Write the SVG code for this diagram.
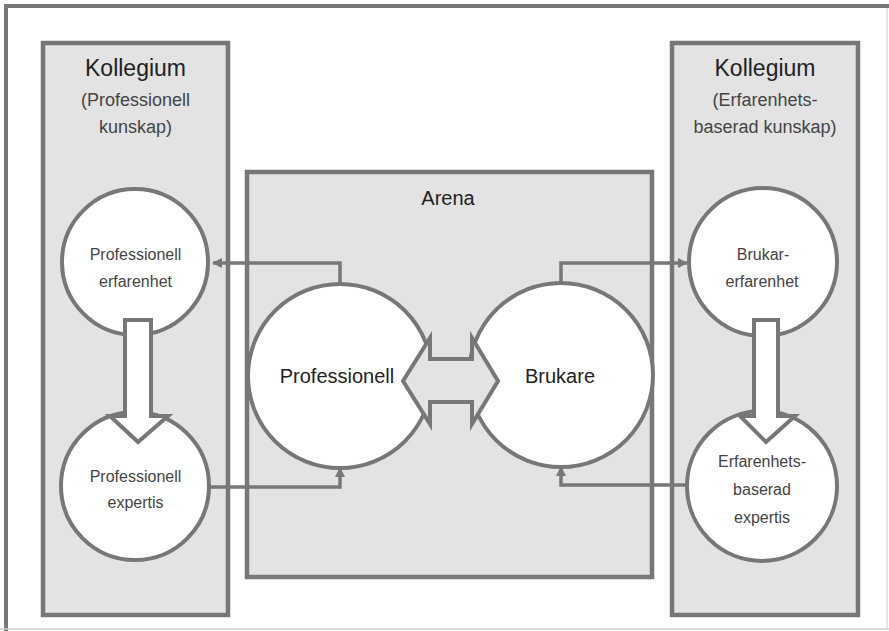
<svg xmlns="http://www.w3.org/2000/svg" width="889" height="631" viewBox="0 0 889 631">
<style>
.panel{fill:#e3e3e3;stroke:#777;stroke-width:4.5}
.node{fill:#fff;stroke:#777;stroke-width:4}
.big{fill:#fff;stroke:#777;stroke-width:4;stroke-linejoin:miter}
.dbl{fill:#e3e3e3;stroke:#777;stroke-width:4;stroke-linejoin:miter}
.con{fill:none;stroke:#777;stroke-width:3.5}
text{font-family:"Liberation Sans",Arial,sans-serif;text-anchor:middle}
.h{font-size:23px;fill:#222}
.s{font-size:18px;fill:#444}
.n{font-size:16px;fill:#444}
.c{font-size:20px;fill:#222}
</style>
<defs>
<marker id="ah" viewBox="0 0 10 10" refX="9" refY="5" markerWidth="3" markerHeight="3" orient="auto" markerUnits="strokeWidth">
<path d="M0,0 L10,5 L0,10 z" fill="#777"/>
</marker>
</defs>
<rect width="889" height="631" fill="#fff"/>
<g id="frame">
<line x1="6" y1="4" x2="6" y2="631" stroke="#777" stroke-width="4"/>
<line x1="4" y1="6" x2="889" y2="6" stroke="#777" stroke-width="4"/>
<line x1="0" y1="629" x2="889" y2="629" stroke="#ccc" stroke-width="1.5"/>
<line x1="887" y1="8" x2="887" y2="629" stroke="#ddd" stroke-width="1.5"/>
</g>
<g id="kollegium-left">
<rect class="panel" x="43" y="43" width="185" height="572"/>
<text class="h" x="135.5" y="76">Kollegium</text>
<text class="s" x="135.5" y="106">(Professionell</text>
<text class="s" x="135.5" y="133">kunskap)</text>
</g>
<g id="kollegium-right">
<rect class="panel" x="672" y="43" width="186" height="572"/>
<text class="h" x="765" y="76">Kollegium</text>
<text class="s" x="765" y="106">(Erfarenhets-</text>
<text class="s" x="765" y="133">baserad kunskap)</text>
</g>
<g id="arena">
<rect class="panel" x="247" y="172" width="405" height="405"/>
<text class="c" x="448" y="205">Arena</text>
</g>
<g id="prof-erfarenhet">
<circle class="node" cx="135" cy="262" r="73"/>
</g>
<g id="prof-expertis">
<circle class="node" cx="135" cy="486" r="74"/>
</g>
<g id="brukar-erfarenhet">
<circle class="node" cx="763" cy="262" r="74"/>
</g>
<g id="erf-expertis">
<circle class="node" cx="762" cy="486" r="75"/>
</g>
<g id="professionell">
<circle class="node" cx="340" cy="376" r="92"/>
</g>
<g id="brukare">
<circle class="node" cx="561" cy="375" r="92"/>
</g>
<g id="connectors">
<polygon class="big" points="125,320 151,320 151,416 168,416 138,442 110,416 125,416"/>
<polygon class="big" points="754,320 778,320 778,416 795,416 766,442 740,416 754,416"/>
<polygon class="dbl" points="403,381 430,338 430,359 472,359 472,338 498,381 472,424 472,402 430,402 430,424"/>
<polyline class="con" points="340,284 340,263 213,263" marker-end="url(#ah)"/>
<polyline class="con" points="561,284 561,263 687,263" marker-end="url(#ah)"/>
<polyline class="con" points="209,487 340,487 340,468" marker-end="url(#ah)"/>
<polyline class="con" points="687,485 561,485 561,467" marker-end="url(#ah)"/>
</g>
<g id="labels">
<text class="n" x="135.5" y="260">Professionell</text>
<text class="n" x="135.5" y="287">erfarenhet</text>
<text class="n" x="135.5" y="482">Professionell</text>
<text class="n" x="135.5" y="508">expertis</text>
<text class="n" x="763" y="260">Brukar-</text>
<text class="n" x="762" y="287">erfarenhet</text>
<text class="n" x="762" y="467">Erfarenhets-</text>
<text class="n" x="762" y="495">baserad</text>
<text class="n" x="762" y="523">expertis</text>
<text class="c" x="337" y="383">Professionell</text>
<text class="c" x="560" y="383">Brukare</text>
</g>
</svg>
